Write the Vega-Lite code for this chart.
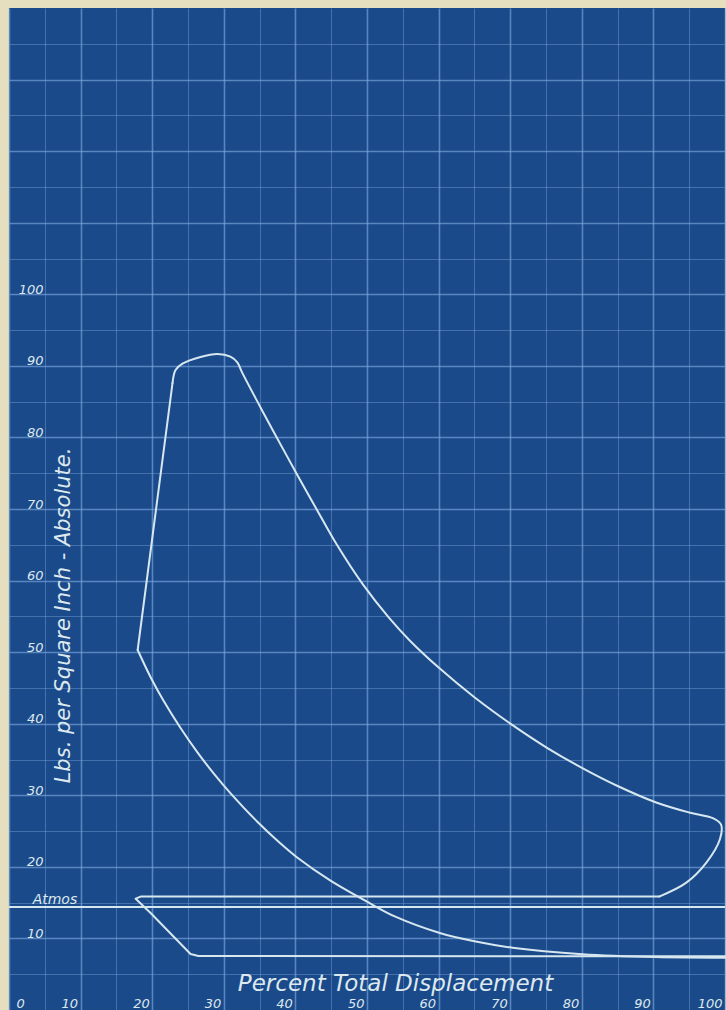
{
  "$schema": "https://vega.github.io/schema/vega-lite/v6.json",
  "width": 726,
  "height": 1010,
  "autosize": {"type": "fit", "contains": "padding"},
  "padding": {"left": 8, "top": 8, "right": 0, "bottom": 0},
  "background": "#e6dfbf",
  "view": {"fill": "#1b4a8b", "stroke": null},
  "datasets": {
    "smooth": [
      {"seg": "expansion", "i": 1, "x": 22.84, "y": 87.61},
      {"seg": "expansion", "i": 2, "x": 23.26, "y": 89.42},
      {"seg": "expansion", "i": 3, "x": 24.23, "y": 90.3},
      {"seg": "expansion", "i": 4, "x": 26.74, "y": 91.24},
      {"seg": "expansion", "i": 5, "x": 29.11, "y": 91.66},
      {"seg": "expansion", "i": 6, "x": 30.92, "y": 91.3},
      {"seg": "expansion", "i": 7, "x": 31.89, "y": 90.5},
      {"seg": "expansion", "i": 8, "x": 32.5, "y": 89.2},
      {"seg": "expansion", "i": 9, "x": 34.7, "y": 85.0},
      {"seg": "expansion", "i": 10, "x": 36.9, "y": 80.9},
      {"seg": "expansion", "i": 11, "x": 40.25, "y": 74.8},
      {"seg": "expansion", "i": 12, "x": 43.0, "y": 69.9},
      {"seg": "expansion", "i": 13, "x": 45.8, "y": 65.0},
      {"seg": "expansion", "i": 14, "x": 49.4, "y": 59.5},
      {"seg": "expansion", "i": 15, "x": 53.0, "y": 54.9},
      {"seg": "expansion", "i": 16, "x": 56.0, "y": 51.6},
      {"seg": "expansion", "i": 17, "x": 60.17, "y": 47.7},
      {"seg": "expansion", "i": 18, "x": 65.0, "y": 43.7},
      {"seg": "expansion", "i": 19, "x": 70.33, "y": 39.8},
      {"seg": "expansion", "i": 20, "x": 75.2, "y": 36.6},
      {"seg": "expansion", "i": 21, "x": 80.08, "y": 33.8},
      {"seg": "expansion", "i": 22, "x": 85.0, "y": 31.3},
      {"seg": "expansion", "i": 23, "x": 90.39, "y": 29.0},
      {"seg": "expansion", "i": 24, "x": 95.0, "y": 27.6},
      {"seg": "expansion", "i": 25, "x": 98.3, "y": 26.8},
      {"seg": "expansion", "i": 26, "x": 99.45, "y": 25.9},
      {"seg": "expansion", "i": 27, "x": 99.3, "y": 23.9},
      {"seg": "expansion", "i": 28, "x": 97.4, "y": 20.6},
      {"seg": "expansion", "i": 29, "x": 94.6, "y": 17.8},
      {"seg": "expansion", "i": 30, "x": 90.81, "y": 15.85},
      {"seg": "compression", "i": 1, "x": 100, "y": 7.3},
      {"seg": "compression", "i": 2, "x": 90.25, "y": 7.4},
      {"seg": "compression", "i": 3, "x": 80.08, "y": 7.8},
      {"seg": "compression", "i": 4, "x": 70.33, "y": 8.7},
      {"seg": "compression", "i": 5, "x": 65.0, "y": 9.6},
      {"seg": "compression", "i": 6, "x": 60.17, "y": 10.75},
      {"seg": "compression", "i": 7, "x": 54.04, "y": 13.0},
      {"seg": "compression", "i": 8, "x": 50.42, "y": 14.9},
      {"seg": "compression", "i": 9, "x": 44.85, "y": 18.1},
      {"seg": "compression", "i": 10, "x": 40.25, "y": 21.3},
      {"seg": "compression", "i": 11, "x": 37.88, "y": 23.3},
      {"seg": "compression", "i": 12, "x": 34.68, "y": 26.3},
      {"seg": "compression", "i": 13, "x": 30.92, "y": 30.3},
      {"seg": "compression", "i": 14, "x": 28.55, "y": 33.1},
      {"seg": "compression", "i": 15, "x": 26.32, "y": 36.0},
      {"seg": "compression", "i": 16, "x": 23.96, "y": 39.4},
      {"seg": "compression", "i": 17, "x": 21.59, "y": 43.2},
      {"seg": "compression", "i": 18, "x": 19.78, "y": 46.5},
      {"seg": "compression", "i": 19, "x": 17.97, "y": 50.3}
    ],
    "straight": [
      {"seg": "rise", "i": 1, "x": 17.97, "y": 50.3},
      {"seg": "rise", "i": 2, "x": 22.84, "y": 87.61},
      {"seg": "exhaust", "i": 1, "x": 90.81, "y": 15.85},
      {"seg": "exhaust", "i": 2, "x": 18.38, "y": 15.85},
      {"seg": "exhaust", "i": 3, "x": 17.69, "y": 15.55},
      {"seg": "exhaust", "i": 4, "x": 19.78, "y": 13.55},
      {"seg": "exhaust", "i": 5, "x": 25.35, "y": 7.82},
      {"seg": "exhaust", "i": 6, "x": 26.46, "y": 7.55},
      {"seg": "exhaust", "i": 7, "x": 100, "y": 7.5}
    ],
    "atmos": [{"x": 3.3, "y": 14.4, "label": "Atmos"}]
  },
  "layer": [
    {
      "data": {"name": "smooth"},
      "mark": {"type": "line", "color": "#d6e7ef", "strokeWidth": 2, "interpolate": "catmull-rom", "strokeJoin": "round", "strokeCap": "round"},
      "encoding": {
        "x": {
          "field": "x", "type": "quantitative",
          "scale": {"domain": [0, 100], "nice": false, "zero": false},
          "axis": {
            "values": [0,5,10,15,20,25,30,35,40,45,50,55,60,65,70,75,80,85,90,95,100],
            "tickCount": 200,
            "format": "d",
            "grid": true,
            "gridColor": "#79a7dc",
            "gridOpacity": {"condition": {"test": "datum.value % 10 === 0", "value": 0.65}, "value": 0.42},
            "gridWidth": {"condition": {"test": "datum.value % 10 === 0", "value": 1.6}, "value": 1.1},
            "domain": false,
            "ticks": false,
            "tickSize": 0,
            "labelExpr": "datum.value % 10 === 0 ? datum.label : ''",
            "labelAlign": {"condition": {"test": "datum.value === 0", "value": "left"}, "value": "right"},
            "labelOffset": {"condition": {"test": "datum.value === 0", "value": 7}, "value": -3},
            "labelBaseline": "alphabetic",
            "labelPadding": -3,
            "labelFont": "DejaVu Sans",
            "labelFontStyle": "italic",
            "labelFontSize": 13,
            "labelColor": "#dde9ee",
            "labelOverlap": false,
            "labelBound": false,
            "labelFlush": false,
            "title": "Percent Total Displacement",
            "titleFont": "DejaVu Sans",
            "titleFontStyle": "italic",
            "titleFontWeight": "normal",
            "titleFontSize": 23,
            "titleColor": "#dde9ee",
            "titleX": 386,
            "titleY": -20,
            "titleAlign": "center",
            "titleBaseline": "alphabetic"
          }
        },
        "y": {
          "field": "y", "type": "quantitative",
          "scale": {"domain": [0, 140], "nice": false, "zero": false},
          "axis": {
            "values": [5,10,15,20,25,30,35,40,45,50,55,60,65,70,75,80,85,90,95,100,105,110,115,120,125,130,135],
            "tickCount": 200,
            "format": "d",
            "grid": true,
            "gridColor": "#79a7dc",
            "gridOpacity": {"condition": {"test": "datum.value % 10 === 0", "value": 0.65}, "value": 0.42},
            "gridWidth": {"condition": {"test": "datum.value % 10 === 0", "value": 1.6}, "value": 1.1},
            "domain": false,
            "ticks": false,
            "tickSize": 0,
            "labelExpr": "(datum.value % 10 === 0 && datum.value >= 10 && datum.value <= 100) ? datum.label : ''",
            "labelAlign": "right",
            "labelBaseline": "alphabetic",
            "labelPadding": -34,
            "labelOffset": -1,
            "labelFont": "DejaVu Sans",
            "labelFontStyle": "italic",
            "labelFontSize": 13,
            "labelColor": "#dde9ee",
            "labelOverlap": false,
            "labelBound": false,
            "labelFlush": false,
            "title": "Lbs. per Square Inch - Absolute.",
            "titleFont": "DejaVu Sans",
            "titleFontStyle": "italic",
            "titleFontWeight": "normal",
            "titleFontSize": 21,
            "titleColor": "#dde9ee",
            "titleAngle": -90,
            "titleX": 54,
            "titleY": 607,
            "titleAlign": "center",
            "titleBaseline": "middle"
          }
        },
        "detail": {"field": "seg", "type": "nominal"},
        "order": {"field": "i", "type": "quantitative"}
      }
    },
    {
      "data": {"name": "straight"},
      "mark": {"type": "line", "color": "#d6e7ef", "strokeWidth": 2, "strokeJoin": "round", "strokeCap": "round"},
      "encoding": {
        "x": {"field": "x", "type": "quantitative"},
        "y": {"field": "y", "type": "quantitative"},
        "detail": {"field": "seg", "type": "nominal"},
        "order": {"field": "i", "type": "quantitative"}
      }
    },
    {
      "data": {"name": "atmos"},
      "mark": {"type": "rule", "color": "#d6e7ef", "strokeWidth": 2},
      "encoding": {"y": {"field": "y", "type": "quantitative"}}
    },
    {
      "data": {"name": "atmos"},
      "mark": {"type": "text", "color": "#dde9ee", "font": "DejaVu Sans", "fontStyle": "italic", "fontSize": 14, "align": "left", "baseline": "alphabetic", "dy": -3},
      "encoding": {
        "x": {"field": "x", "type": "quantitative"},
        "y": {"field": "y", "type": "quantitative"},
        "text": {"field": "label"}
      }
    }
  ]
}
